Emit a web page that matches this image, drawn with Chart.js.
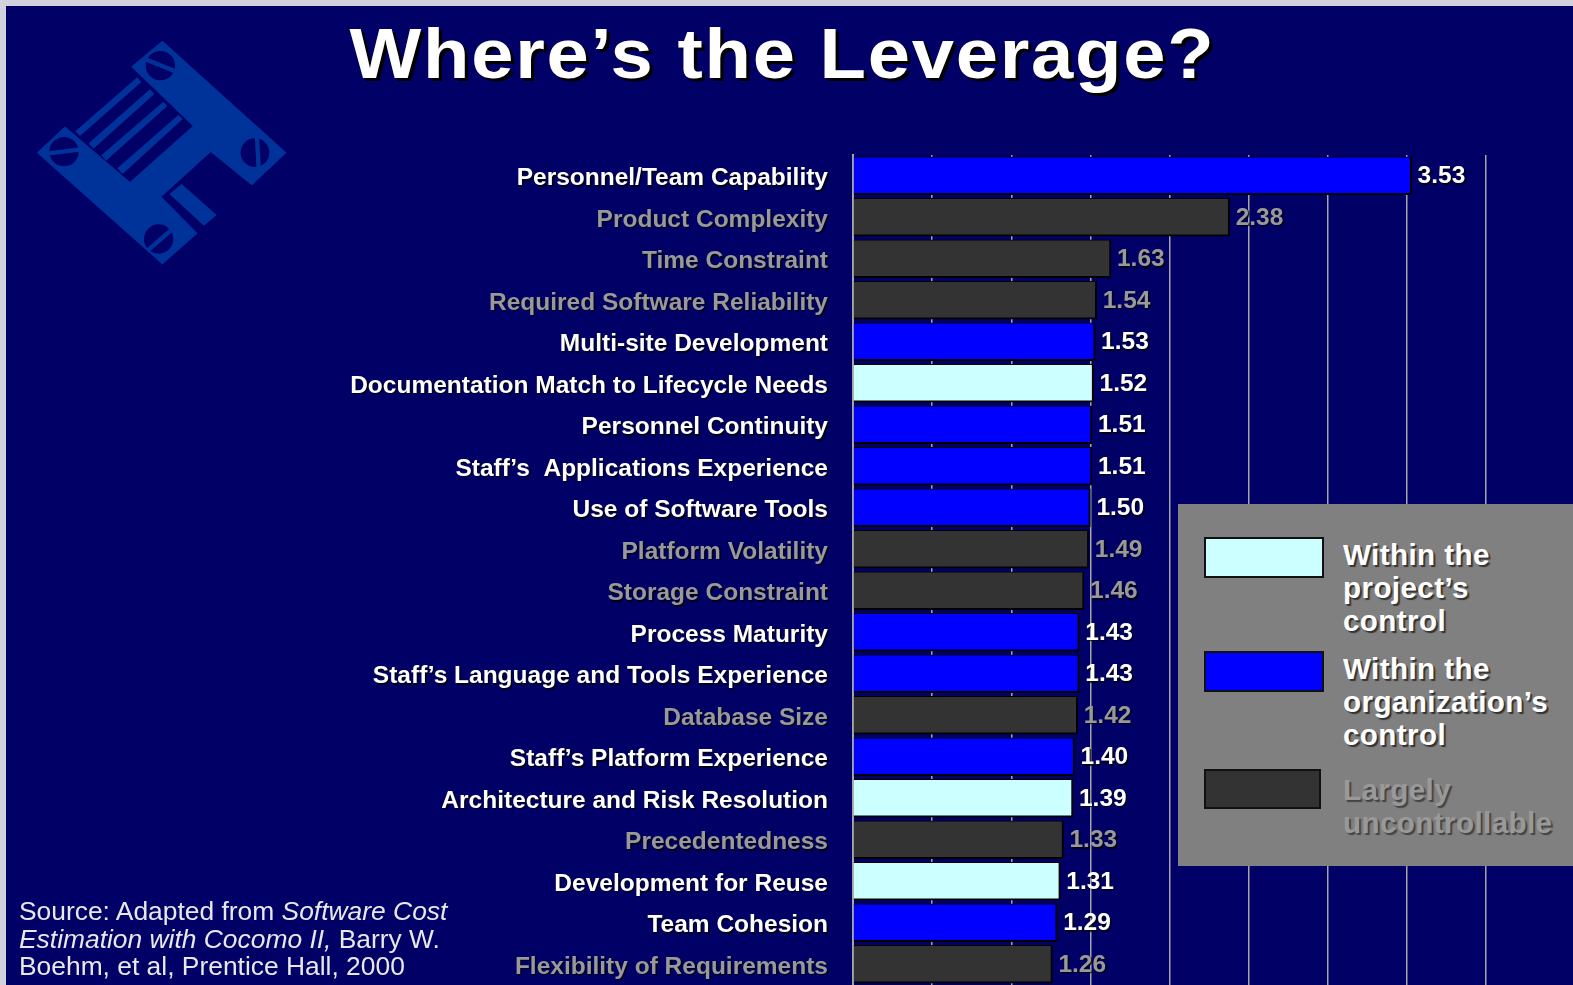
<!DOCTYPE html>
<html>
<head>
<meta charset="utf-8">
<title>Where's the Leverage?</title>
<script src="https://cdn.jsdelivr.net/npm/chart.js@4"></script>
<style>
  html, body { margin: 0; padding: 0; background: #d0d3dc; overflow: hidden; }
  #slide { position: absolute; left: 6px; top: 6px; width: 1567px; height: 979px; background: #000066; overflow: hidden; }
  #wrap { position: absolute; left: -6px; top: -6px; width: 1573px; height: 985px; }
  #logo { position: absolute; left: -6px; top: -6px; width: 500px; height: 300px; }
  #title { position: absolute; left: -10px; top: 8px; width: 1573px; text-align: center; font: bold 70px 'Liberation Sans', Arial, sans-serif;
    letter-spacing: 1.6px; color: #fff; text-shadow: 3px 3px 0 #000; line-height: 80px; white-space: nowrap; transform: scaleX(1.086); }
  #source { position: absolute; left: 13px; top: 892px; font: 26.4px/27.7px 'Liberation Sans', Arial, sans-serif; color: #e8e8e8; white-space: nowrap; }
  #legend { position: absolute; left: 1172px; top: 498px; width: 395px; height: 362px; background: #808080; }
  .sw { position: absolute; box-sizing: border-box; border: 2px solid #111; }
  .lt { position: absolute; left: 165px; font: bold 29.6px/32.8px 'Liberation Sans', Arial, sans-serif; letter-spacing: .4px; white-space: pre; color: #fff; text-shadow: 2px 2px 1px #333; }
  .lt.dim { color: #999; text-shadow: 2px 2px 1px #444; }
</style>
</head>
<body>
<div id="slide">
  <svg id="logo" viewBox="0 0 1500 900">
    <path fill="#003399" stroke="#003399" stroke-width="6" stroke-linejoin="round" d="M487 126 L855 458 L755 552 L632 452 L480 590 L589 700 L487 789 L115 458 L195 383 L390 550 L583 378 L398 200 Z"/>
    <path fill="#003399" d="M412 232 L424 246 L240 408 L226 394 Z M450 268 L463 282 L280 446 L266 430 Z M490 305 L502 318 L318 482 L304 466 Z M535 345 L548 357 L368 522 L352 505 Z M545 552 L650 645 L612 677 L508 582 Z"/>
    <g fill="#000066" stroke="none">
      <circle cx="481" cy="197" r="44"/><circle cx="765" cy="458" r="43"/><circle cx="192" cy="455" r="44"/><circle cx="476" cy="717" r="44"/>
    </g>
    <g stroke="#003399" stroke-width="13">
      <line x1="436" y1="178" x2="526" y2="214"/><line x1="771" y1="414" x2="776" y2="502"/>
      <line x1="146" y1="460" x2="238" y2="449"/><line x1="442" y1="752" x2="512" y2="692"/>
    </g>
  </svg>
  <div id="title">Where’s the Leverage?</div>
  <div id="wrap"><canvas id="c" width="1573" height="985"></canvas></div>
  <div id="source">Source: Adapted from <i>Software Cost</i><br><i>Estimation with Cocomo II,</i> Barry W.<br>Boehm, et al, Prentice Hall, 2000</div>
  <div id="legend"></div>
</div>
<script>
var CATEGORIES = ['Personnel/Team Capability', 'Product Complexity', 'Time Constraint', 'Required Software Reliability',
  'Multi-site Development', 'Documentation Match to Lifecycle Needs', 'Personnel Continuity', 'Staff’s  Applications Experience',
  'Use of Software Tools', 'Platform Volatility', 'Storage Constraint', 'Process Maturity', 'Staff’s Language and Tools Experience',
  'Database Size', 'Staff’s Platform Experience', 'Architecture and Risk Resolution', 'Precedentedness', 'Development for Reuse',
  'Team Cohesion', 'Flexibility of Requirements'];
var VALUES = [3.53, 2.38, 1.63, 1.54, 1.53, 1.52, 1.51, 1.51, 1.50, 1.49, 1.46, 1.43, 1.43, 1.42, 1.40, 1.39, 1.33, 1.31, 1.29, 1.26];
// o = organization, u = uncontrollable, p = project
var GROUPS = ['o', 'u', 'u', 'u', 'o', 'p', 'o', 'o', 'o', 'u', 'u', 'o', 'o', 'u', 'o', 'p', 'u', 'p', 'o', 'u'];
var BAR_COLORS = { p: '#CCFFFF', o: '#0000FF', u: '#333333' };
var TEXT_COLORS = { p: '#FFFFFF', o: '#FFFFFF', u: '#999999' };

var LEGEND_LABELS = ['Within the\nproject’s\ncontrol', 'Within the\norganization’s\ncontrol', 'Largely\nuncontrollable'];
var LEGEND_GROUPS = ['p', 'o', 'u'];

// legend panel sits over the chart, same as the slide
var legendBoxes = [[26, 33, 120, 41, 35], [26, 147, 120, 41, 149], [26, 265, 117, 40, 270]];
LEGEND_LABELS.forEach(function (txt, i) {
  var b = legendBoxes[i], g = LEGEND_GROUPS[i];
  var sw = document.createElement('div');
  sw.className = 'sw';
  sw.style.cssText = 'left:' + b[0] + 'px;top:' + b[1] + 'px;width:' + b[2] + 'px;height:' + b[3] + 'px;background:' + BAR_COLORS[g];
  var lt = document.createElement('div');
  lt.className = 'lt' + (g === 'u' ? ' dim' : '');
  lt.style.top = b[4] + 'px';
  lt.textContent = txt;
  var box = document.getElementById('legend');
  box.appendChild(sw);
  box.appendChild(lt);
});

// value labels at bar ends, and a soft shadow for them and the tick labels
var valueLabels = {
  id: 'valueLabels',
  afterDatasetsDraw: function (chart) {
    var ctx = chart.ctx;
    ctx.shadowColor = 'rgba(0,0,0,0.8)';
    ctx.shadowOffsetX = 1.5;
    ctx.shadowOffsetY = 1.5;
    ctx.shadowBlur = 1;
    ctx.save();
    ctx.font = 'bold 24.5px "Liberation Sans", Arial, sans-serif';
    ctx.textBaseline = 'middle';
    chart.getDatasetMeta(0).data.forEach(function (bar, i) {
      ctx.fillStyle = TEXT_COLORS[GROUPS[i]];
      ctx.fillText(VALUES[i].toFixed(2), bar.x + 6, bar.y + 0.5);
    });
    ctx.restore();
    ctx.translate(0, 2.5);   // tick labels sit a little below the bar centres
  },
  afterDraw: function (chart) {
    chart.ctx.translate(0, -2.5);
    chart.ctx.shadowColor = 'transparent';
  }
};

new Chart(document.getElementById('c'), {
  type: 'bar',
  data: {
    labels: CATEGORIES,
    datasets: [{
      data: VALUES,
      backgroundColor: GROUPS.map(function (g) { return BAR_COLORS[g]; }),
      borderColor: '#000000',
      borderWidth: { top: 1, left: 0, right: 2, bottom: 2 },
      borderSkipped: false,
      barThickness: 38
    }]
  },
  plugins: [valueLabels],
  options: {
    indexAxis: 'y',
    responsive: false,
    animation: false,
    layout: { padding: { left: 0, top: 155, right: 87, bottom: 0 } },
    plugins: { legend: { display: false }, tooltip: { enabled: false }, title: { display: false } },
    scales: {
      x: {
        min: 0, max: 4,
        afterFit: function (scale) { scale.height = 0; },
        ticks: { stepSize: 0.5, display: false },
        grid: { color: '#A6A6A6', lineWidth: 1.5, drawTicks: false },
        border: { display: false }
      },
      y: {
        grid: { display: false, drawTicks: false },
        border: { display: true, color: '#A6A6A6', width: 2 },
        afterFit: function (scale) {
          scale.width = 853;
          // tick padding would otherwise be added above and below the plot
          scale.paddingTop = 0;
          scale.paddingBottom = 0;
        },
        ticks: {
          z: 1,
          autoSkip: false,
          padding: 25,
          font: { family: "'Liberation Sans', Arial, sans-serif", size: 24.5, weight: 'bold' },
          color: function (c) { return TEXT_COLORS[GROUPS[c.index]]; }
        }
      }
    }
  }
});
</script>
</body>
</html>
